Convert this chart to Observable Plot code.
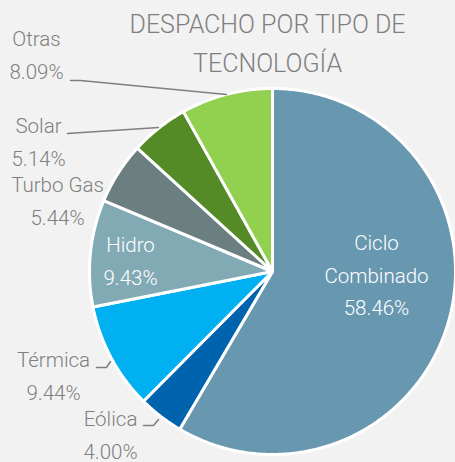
<!DOCTYPE html>
<html>
<head>
<meta charset="utf-8">
<script src="https://cdn.jsdelivr.net/npm/d3@7"></script>
<script src="https://cdn.jsdelivr.net/npm/@observablehq/plot@0.6"></script>
<style>
  html, body { margin: 0; padding: 0; background: #f2f2f2; }
  #chart svg { display: block; }
</style>
</head>
<body>
<div id="chart"></div>
<script>
// ---- Data ----
const categories = ["Ciclo Combinado", "Eólica", "Térmica", "Hidro", "Turbo Gas", "Solar", "Otras"];
const labelNames = ["Ciclo\nCombinado", "Eólica", "Térmica", "Hidro", "Turbo Gas", "Solar", "Otras"];
const shares = [58.46, 4.00, 9.44, 9.43, 5.44, 5.14, 8.09];
const colors = ["#6897b0", "#0063ae", "#00b0f0", "#82aab5", "#6b7f80", "#548b27", "#92d050"];
const titleText = "DESPACHO POR TIPO DE\nTECNOLOGÍA";

// ---- Layout (pixels) ----
const W = 455, H = 462;
const cx = 272, cy = 271, R = 183;
const labelLayout = [
  {x: 376, y: 226, fill: "white"},
  {x: 110, y: 402, fill: "#7f7f7f"},
  {x: 53,  y: 343, fill: "#7f7f7f"},
  {x: 130, y: 228, fill: "white"},
  {x: 57,  y: 168, fill: "#7f7f7f"},
  {x: 38,  y: 109, fill: "#7f7f7f"},
  {x: 36,  y: 22,  fill: "#7f7f7f"}
];
const leaderLines = [
  {name: "Otras",   pts: [[70, 80], [80, 80], [226, 94]]},
  {name: "Solar",   pts: [[67, 133], [158, 127]]},
  {name: "Térmica", pts: [[96, 367], [106, 367], [110, 361]]},
  {name: "Eólica",  pts: [[143, 425], [153, 425], [158, 419]]}
];

// ---- Geometry ----
const arcs = d3.pie().sort(null).startAngle(0).endAngle(2 * Math.PI)(shares);
const slicePts = [];
arcs.forEach((a, i) => {
  const name = categories[i];
  slicePts.push({name, color: colors[i], x: cx, y: cy});
  const n = Math.max(4, Math.ceil((a.endAngle - a.startAngle) / 0.01));
  for (let k = 0; k <= n; k++) {
    const t = a.startAngle + (a.endAngle - a.startAngle) * k / n;
    slicePts.push({name, color: colors[i], x: cx + R * Math.sin(t), y: cy - R * Math.cos(t)});
  }
  slicePts.push({name, color: colors[i], x: cx, y: cy});
});

const labels = categories.map((c, i) => ({
  text: labelNames[i] + "\n" + shares[i].toFixed(2) + "%",
  ...labelLayout[i]
}));

const leaderPts = leaderLines.flatMap(l => l.pts.map(([x, y]) => ({name: l.name, x, y})));

const font = "Roboto, 'Open Sans', sans-serif";

const plot = Plot.plot({
  width: W, height: H,
  margin: 0,
  style: {background: "#f2f2f2", fontFamily: font, overflow: "visible"},
  x: {domain: [0, W], range: [0, W], axis: null},
  y: {domain: [0, H], range: [0, H], axis: null},
  color: {type: "identity"},
  marks: [
    Plot.line(slicePts, {x: "x", y: "y", z: "name", fill: "color", stroke: "white", strokeWidth: 3, strokeLinejoin: "round"}),
    Plot.line(leaderPts, {x: "x", y: "y", z: "name", stroke: "#7f7f7f", strokeWidth: 1.5}),
    Plot.text(labels, {x: "x", y: "y", text: "text", fill: d => d.fill, textAnchor: "middle", lineAnchor: "top", fontSize: 20.5, lineHeight: 1.6, fontWeight: 300}),
    Plot.text([titleText], {x: () => 267, y: () => 5, text: d => d, fill: "#7f7f7f", textAnchor: "middle", lineAnchor: "top", fontSize: 25, lineHeight: 1.56, fontWeight: 300})
  ]
});
document.getElementById("chart").appendChild(plot);
</script>
</body>
</html>
